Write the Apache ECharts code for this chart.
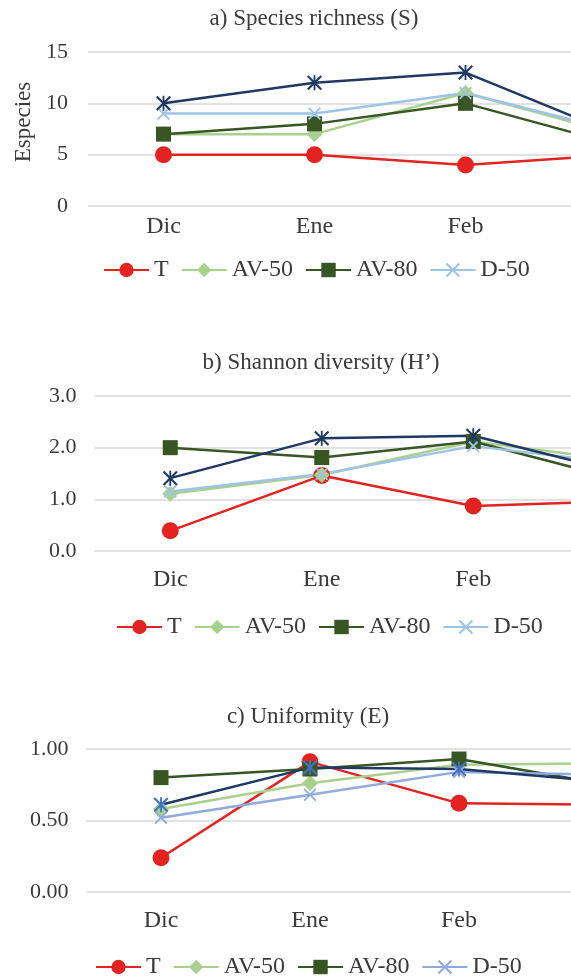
<!DOCTYPE html>
<html><head><meta charset="utf-8">
<script src="https://cdn.jsdelivr.net/npm/echarts@6/dist/echarts.min.js"></script>
<style>
html,body{margin:0;padding:0;background:#fff;width:571px;height:980px;overflow:hidden;position:relative}
.c{position:absolute;left:0;top:0;width:780px;height:980px}
</style></head>
<body>
<div id="a" class="c"></div><div id="b" class="c"></div><div id="cc" class="c"></div>
<script>
const categories = ['Dic', 'Ene', 'Feb', 'Mar'];
const legendNames = ['T', 'AV-50', 'AV-80', 'D-50'];
const extraName = 'D-80';

// a) Species richness (S)
const richT    = [5, 5, 4, 5];
const richAV50 = [7, 7, 11, 7];
const richAV80 = [7, 8, 10, 6];
const richD50  = [9, 9, 11, 7.3];
const richD80  = [10, 12, 13, 7];
const richTicks = [0, 5, 10, 15];

// b) Shannon diversity (H')
const shanT    = [0.39, 1.46, 0.87, 0.97];
const shanAV50 = [1.11, 1.47, 2.12, 1.74];
const shanAV80 = [2.00, 1.81, 2.12, 1.36];
const shanD50  = [1.15, 1.49, 2.03, 1.69];
const shanD80  = [1.41, 2.18, 2.23, 1.50];
const shanTicks = [0.0, 1.0, 2.0, 3.0];

// c) Uniformity (E)
const uniT    = [0.24, 0.91, 0.62, 0.61];
const uniAV50 = [0.58, 0.76, 0.89, 0.90];
const uniAV80 = [0.80, 0.86, 0.93, 0.75];
const uniD50  = [0.52, 0.68, 0.84, 0.82];
const uniD80  = [0.61, 0.87, 0.86, 0.77];
const uniTicks = [0.00, 0.50, 1.00];

const FONT = '"Liberation Serif", "DejaVu Serif", serif';
const TXT = '#3a3a3a';
const XPATH = 'path://M0 1L1 0L5 4L9 0L10 1L6 5L10 9L9 10L5 6L1 10L0 9L4 5Z';
const STARPATH = 'path://M0 1L1 0L5 4L9 0L10 1L6 5L10 9L9 10L5 6L1 10L0 9L4 5Z M4.4 0L5.6 0L5.6 10L4.4 10Z';

function mk(el, cfg) {
  const chart = echarts.init(document.getElementById(el), null, {renderer: 'canvas'});
  const s = (name, data, color, symbol, size, extra) => Object.assign({
    name, type: 'line', data, symbol, symbolSize: size,
    lineStyle: {color, width: 2.5},
    itemStyle: {color, borderWidth: 0},
    z: 2
  }, extra || {});
  const d = cfg.data;
  const series = [
    s(legendNames[0], d[0], '#e32322', 'circle', 17),
    s(legendNames[1], d[1], '#a9d18e', 'diamond', 16),
    s(legendNames[2], d[2], '#375623', 'rect', 15),
    s(legendNames[3], d[3], cfg.d50Color, XPATH, 13),
    s(extraName, d[4], '#203864', STARPATH, 15, {itemStyle: {color: cfg.starColor}, lineStyle: {color: '#203864', width: 2.5}})
  ];
  chart.setOption({
    animation: false,
    textStyle: {fontFamily: FONT},
    title: {
      text: cfg.title, left: cfg.titleX, top: cfg.titleTop, textAlign: 'center',
      textStyle: {fontFamily: FONT, fontSize: 23, fontWeight: 'normal', color: TXT}
    },
    legend: {
      data: legendNames, left: cfg.legendLeft, top: cfg.legendTop,
      itemWidth: 45, itemHeight: 18, itemGap: 12,
      textStyle: {fontFamily: FONT, fontSize: 24, color: TXT}
    },
    grid: {left: cfg.left, top: cfg.top, width: cfg.width, height: cfg.height,
      containLabel: false, outerBoundsMode: 'none'},
    xAxis: {
      type: 'category', data: categories, boundaryGap: true,
      axisLine: {show: false}, axisTick: {show: false},
      axisLabel: {fontFamily: FONT, fontSize: 24, color: TXT, margin: cfg.xMargin}
    },
    yAxis: {
      type: 'value', min: cfg.ticks[0], max: cfg.ticks[cfg.ticks.length - 1],
      interval: cfg.ticks[1] - cfg.ticks[0],
      name: cfg.yName || '', nameLocation: 'middle', nameGap: cfg.nameGap || 0,
      nameTextStyle: {fontFamily: FONT, fontSize: 23, color: TXT, padding: [0, 0, 0, 14]},
      axisLine: {show: false}, axisTick: {show: false},
      axisLabel: {fontFamily: FONT, fontSize: 22, color: TXT, margin: cfg.yMargin,
        formatter: v => v.toFixed(cfg.dec)},
      splitLine: {lineStyle: {color: '#d9d9d9', width: 1.5}}
    },
    series
  });
}

mk('a', {
  title: 'a) Species richness (S)', titleX: 309, titleTop: 2,
  legendLeft: 98, legendTop: 253,
  left: 88, top: 52, width: 604, height: 154,
  ticks: richTicks, dec: 0, yMargin: 20, xMargin: 9,
  yName: 'Especies', nameGap: 47,
  d50Color: '#9dc3e6', starColor: '#203864',
  data: [richT, richAV50, richAV80, richD50, richD80]
});
mk('b', {
  title: "b) Shannon diversity (H\u2019)", titleX: 316, titleTop: 346,
  legendLeft: 111, legendTop: 610,
  left: 94.5, top: 396, width: 606, height: 155,
  ticks: shanTicks, dec: 1, yMargin: 18, xMargin: 17,
  d50Color: '#9dc3e6', starColor: '#203864',
  data: [shanT, shanAV50, shanAV80, shanD50, shanD80]
});
mk('cc', {
  title: 'c) Uniformity (E)', titleX: 303, titleTop: 700,
  legendLeft: 90, legendTop: 950,
  left: 86.5, top: 749, width: 596, height: 143,
  ticks: uniTicks, dec: 2, yMargin: 18, xMargin: 17,
  d50Color: '#8faadc', starColor: '#4472c4',
  data: [uniT, uniAV50, uniAV80, uniD50, uniD80]
});
</script>
</body></html>
